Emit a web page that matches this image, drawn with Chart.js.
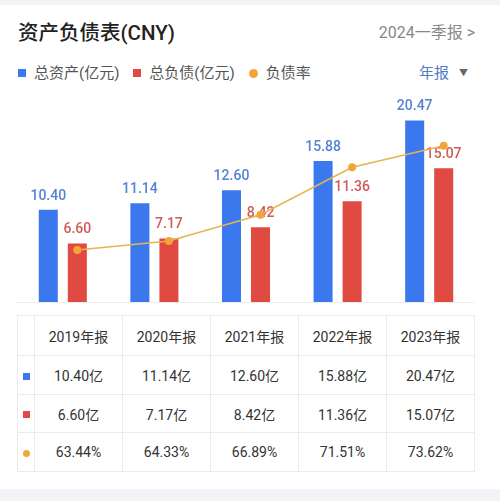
<!DOCTYPE html>
<html>
<head>
<meta charset="utf-8">
<script src="https://cdn.jsdelivr.net/npm/chart.js@4.4.1/dist/chart.umd.min.js"></script>
<style>
  html, body { margin: 0; padding: 0; }
  body {
    width: 500px; height: 501px; position: relative; overflow: hidden;
    background: #fff;
    font-family: Roboto, "Noto Sans CJK SC", sans-serif;
  }
  .topband { position: absolute; left: 0; top: 0; width: 500px; height: 5px; background: #f2f3f5; }
  .bottomband { position: absolute; left: 0; top: 489px; width: 500px; height: 12px; background: #f3f4f7; }
  .title { position: absolute; left: 18px; top: 20px; font-size: 20.5px; font-weight: 500; color: #222; line-height: 26px; }
  .period { position: absolute; right: 25px; top: 22px; font-size: 16px; color: #888; line-height: 22px; }
  .legend { position: absolute; left: 18px; top: 63px; font-size: 15px; color: #555; line-height: 20px; display: flex; align-items: center; }
  .legend span.mk { display: inline-block; width: 8px; height: 8px; margin-right: 8px; }
  .legend span.txt { margin-right: 14px; }
  .freq { position: absolute; left: 419px; top: 63px; font-size: 15px; color: #4f7bc4; line-height: 20px; }
  .freq i { font-style: normal; color: #666; font-size: 9px; margin-left: 10px; vertical-align: 2px; }
  #chartBox { position: absolute; left: 0; top: 85px; width: 500px; height: 222px; }
  table { position: absolute; left: 17px; top: 315px; border-collapse: collapse; table-layout: fixed; }
  td { border: 1px solid #ebebeb; text-align: center; font-size: 14px; color: #333; padding: 0; }
  td.mkcell { width: 16px; }
  td.val { width: 87px; }
  .sq { display: inline-block; width: 7px; height: 7px; vertical-align: middle; }
</style>
</head>
<body>
<div class="topband"></div>
<div class="title">资产负债表(CNY)</div>
<div class="period">2024一季报 &gt;</div>
<div class="legend" id="legend"></div>
<div class="freq">年报<i>▼</i></div>
<div id="chartBox"><canvas id="bsChart"></canvas></div>
<table id="bsTable"></table>
<div class="bottomband"></div>

<script>
// Chart data
const periods = ['2019年报', '2020年报', '2021年报', '2022年报', '2023年报'];
const totalAssets = [10.40, 11.14, 12.60, 15.88, 20.47];
const totalLiabilities = [6.60, 7.17, 8.42, 11.36, 15.07];
const debtRatio = [63.44, 64.33, 66.89, 71.51, 73.62];

const seriesNames = ['总资产(亿元)', '总负债(亿元)', '负债率'];
const BLUE = '#3b78ee';
const RED = '#e04a42';
const ORANGE = '#f2a63a';
const BLUE_LABEL = '#5682d2';
const RED_LABEL = '#cf5c56';

const CAT_PCT = 0.634;
const BAR_PCT = 0.655;

// Legend
const legendEl = document.getElementById('legend');
[[BLUE, false], [RED, false], [ORANGE, true]].forEach(function (item, i) {
    const mk = document.createElement('span');
    mk.className = 'mk';
    mk.style.background = item[0];
    if (item[1]) { mk.style.borderRadius = '50%'; mk.style.width = '9px'; mk.style.height = '9px'; }
    const txt = document.createElement('span');
    txt.className = 'txt';
    txt.textContent = seriesNames[i];
    legendEl.appendChild(mk);
    legendEl.appendChild(txt);
});

// Table under the chart
const table = document.getElementById('bsTable');
const rowHeights = [40, 39, 38, 39];
function addRow(marker, cells, h) {
    const tr = document.createElement('tr');
    tr.style.height = h + 'px';
    const first = document.createElement('td');
    first.className = 'mkcell';
    if (marker) first.innerHTML = marker;
    tr.appendChild(first);
    cells.forEach(function (c) {
        const td = document.createElement('td');
        td.className = 'val';
        td.textContent = c;
        tr.appendChild(td);
    });
    table.appendChild(tr);
}
addRow('', periods, rowHeights[0]);
addRow('<span class="sq" style="background:' + BLUE + '"></span>', totalAssets.map(v => v.toFixed(2) + '亿'), rowHeights[1]);
addRow('<span class="sq" style="background:' + RED + '"></span>', totalLiabilities.map(v => v.toFixed(2) + '亿'), rowHeights[2]);
addRow('<span class="sq" style="background:' + ORANGE + ';border-radius:50%"></span>', debtRatio.map(v => v.toFixed(2) + '%'), rowHeights[3]);

// Ratio points sit over the liabilities bars, baseline, value labels above bars
const barLabels = {
    id: 'barLabels',
    afterDatasetsUpdate(chart) {
        const redBars = chart.getDatasetMeta(1).data;
        chart.getDatasetMeta(2).data.forEach(function (pt, i) {
            pt.x = redBars[i].x;
        });
    },
    beforeDatasetsDraw(chart) {
        const a = chart.chartArea;
        const ctx = chart.ctx;
        ctx.save();
        ctx.strokeStyle = '#ececec';
        ctx.lineWidth = 1;
        ctx.beginPath();
        ctx.moveTo(a.left, a.bottom + 0.5);
        ctx.lineTo(a.right, a.bottom + 0.5);
        ctx.stroke();
        ctx.restore();
    },
    afterDatasetDraw(chart, args) {
        const ds = chart.data.datasets[args.index];
        if (ds.type === 'line') return;
        const ctx = chart.ctx;
        ctx.save();
        ctx.font = '500 14px Roboto';
        ctx.fillStyle = ds.labelColor;
        ctx.textAlign = 'center';
        ctx.textBaseline = 'alphabetic';
        args.meta.data.forEach(function (bar, i) {
            ctx.fillText(ds.data[i].toFixed(2), bar.x, bar.y - 10);
        });
        ctx.restore();
    }
};

new Chart(document.getElementById('bsChart'), {
    type: 'bar',
    data: {
        labels: periods,
        datasets: [{
            label: seriesNames[0],
            data: totalAssets,
            backgroundColor: BLUE,
            labelColor: BLUE_LABEL,
            categoryPercentage: CAT_PCT,
            barPercentage: BAR_PCT,
            order: 1
        }, {
            label: seriesNames[1],
            data: totalLiabilities,
            backgroundColor: RED,
            labelColor: RED_LABEL,
            categoryPercentage: CAT_PCT,
            barPercentage: BAR_PCT,
            order: 2
        }, {
            type: 'line',
            label: seriesNames[2],
            data: debtRatio,
            yAxisID: 'yr',
            borderColor: '#ebb24f',
            borderWidth: 1.5,
            pointRadius: 4,
            pointBackgroundColor: ORANGE,
            pointBorderWidth: 0,
            tension: 0,
            order: 0
        }]
    },
    options: {
        responsive: true,
        maintainAspectRatio: false,
        animation: false,
        layout: { padding: { left: 17, right: 25, top: 15, bottom: 5 } },
        plugins: {
            legend: { display: false },
            tooltip: { enabled: false }
        },
        scales: {
            x: { display: false, offset: true },
            y: { display: false, min: 0, max: 22.77 },
            yr: { display: false, position: 'right', min: 58.37, max: 78.08 }
        }
    },
    plugins: [barLabels]
});
</script>
</body>
</html>
